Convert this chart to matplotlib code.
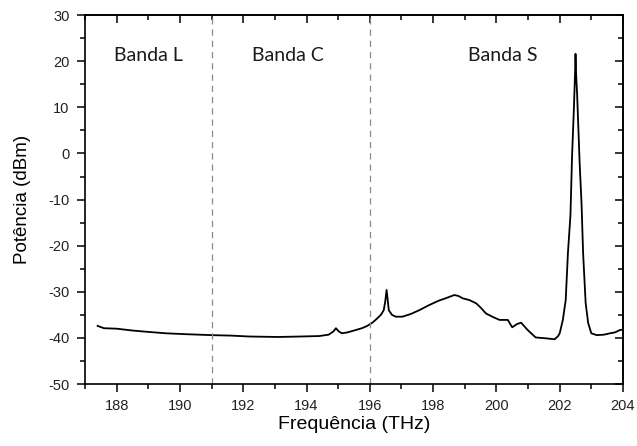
import numpy as np
import matplotlib.pyplot as plt
from matplotlib.ticker import MultipleLocator

plt.rcParams['axes.unicode_minus'] = False

# spectrum (THz, dBm)
freq = [187.40, 187.6, 188.0, 188.5, 189.0, 189.56, 190.2, 191.0, 191.6, 192.2,
        193.1, 193.8, 194.4, 194.7, 194.85, 194.93, 195.02, 195.12, 195.3, 195.55,
        195.75, 195.92, 196.1, 196.23, 196.35, 196.44, 196.49, 196.53, 196.57, 196.6,
        196.7, 196.82, 197.03, 197.3, 197.56, 197.87, 198.09, 198.19, 198.4, 198.67,
        198.8, 198.93, 199.15, 199.36, 199.5, 199.67, 199.9, 200.1, 200.36, 200.5,
        200.65, 200.78, 200.99, 201.24, 201.58, 201.84, 201.95, 202.0, 202.10, 202.19,
        202.26, 202.34, 202.39, 202.45, 202.49, 202.50, 202.52, 202.55, 202.63, 202.69,
        202.74, 202.82, 202.90, 203.0, 203.17, 203.4, 203.59, 203.75, 203.90, 204.0]
power = [-37.4, -37.9, -38.0, -38.4, -38.7, -39.0, -39.2, -39.4, -39.5, -39.7,
         -39.8, -39.7, -39.6, -39.3, -38.6, -37.9, -38.6, -39.0, -38.8, -38.3,
         -37.9, -37.4, -36.6, -35.8, -35.0, -34.0, -32.0, -29.6, -32.0, -34.0,
         -35.0, -35.4, -35.4, -34.8, -34.0, -32.9, -32.2, -31.9, -31.4, -30.7,
         -30.9, -31.4, -31.8, -32.5, -33.4, -34.7, -35.5, -36.1, -36.1, -37.7,
         -37.0, -36.7, -38.3, -39.9, -40.1, -40.3, -39.6, -39.0, -36.1, -31.8,
         -21.6, -13.4, -0.7, 10.0, 18.5, 21.6, 17.0, 13.0, -2.0, -10.8,
         -21.6, -32.4, -36.8, -39.0, -39.4, -39.3, -39.0, -38.8, -38.3, -38.2]

band_edges = [191, 196]
band_labels = ["Banda L", "Banda C", "Banda S"]
band_label_x = [189.0, 193.4, 200.2]

fig = plt.figure(figsize=(6.37, 4.46), dpi=100)
ax = fig.add_axes([0.1334, 0.139, 0.978 - 0.1334, 0.966 - 0.139])

ax.plot(freq, power, color='black', lw=1.3)
for e in band_edges:
    ax.axvline(e, color='#8a8a8a', lw=0.9, ls=(0, (5, 4)))
for lab, x in zip(band_labels, band_label_x):
    ax.text(x, 21.2, lab, ha='center', va='center', fontsize=14,
            family='Lato', color='#1a1a1a')

ax.set_xlim(187, 204)
ax.set_ylim(-50, 30)
ax.xaxis.set_major_locator(MultipleLocator(2))
ax.xaxis.set_minor_locator(MultipleLocator(1))
ax.yaxis.set_major_locator(MultipleLocator(10))
ax.yaxis.set_minor_locator(MultipleLocator(5))

ax.tick_params(which='major', direction='out', length=6, width=1.1,
               labelsize=10.5, pad=5, labelcolor='#222222')
ax.tick_params(which='minor', direction='out', length=3.5, width=1.1)
for lbl in ax.get_xticklabels() + ax.get_yticklabels():
    lbl.set_family('Liberation Sans')

# mirrored ticks pointing inwards on top and right
top = ax.secondary_xaxis('top')
top.xaxis.set_major_locator(MultipleLocator(2))
top.xaxis.set_minor_locator(MultipleLocator(1))
top.tick_params(which='both', direction='in', labeltop=False, width=1.1)
top.tick_params(which='major', length=6)
top.tick_params(which='minor', length=3.5)
right = ax.secondary_yaxis('right')
right.yaxis.set_major_locator(MultipleLocator(10))
right.yaxis.set_minor_locator(MultipleLocator(5))
right.tick_params(which='both', direction='in', labelright=False, width=1.1)
right.tick_params(which='major', length=6)
right.tick_params(which='minor', length=3.5)

for sp in ax.spines.values():
    sp.set_linewidth(1.2)
top.spines['top'].set_linewidth(1.2)
right.spines['right'].set_linewidth(1.2)

ax.set_xlabel("Frequência (THz)", family='Liberation Sans', fontsize=14)
ax.set_ylabel("Potência (dBm)", family='Liberation Sans', fontsize=13.5)
ax.xaxis.set_label_coords(0.5, -0.111, transform=ax.transAxes)
ax.yaxis.set_label_coords(-0.117, 0.5, transform=ax.transAxes)
ax.xaxis.label.set_va('center')
ax.yaxis.label.set_va('center')

fig.savefig("out.png", dpi=100)
